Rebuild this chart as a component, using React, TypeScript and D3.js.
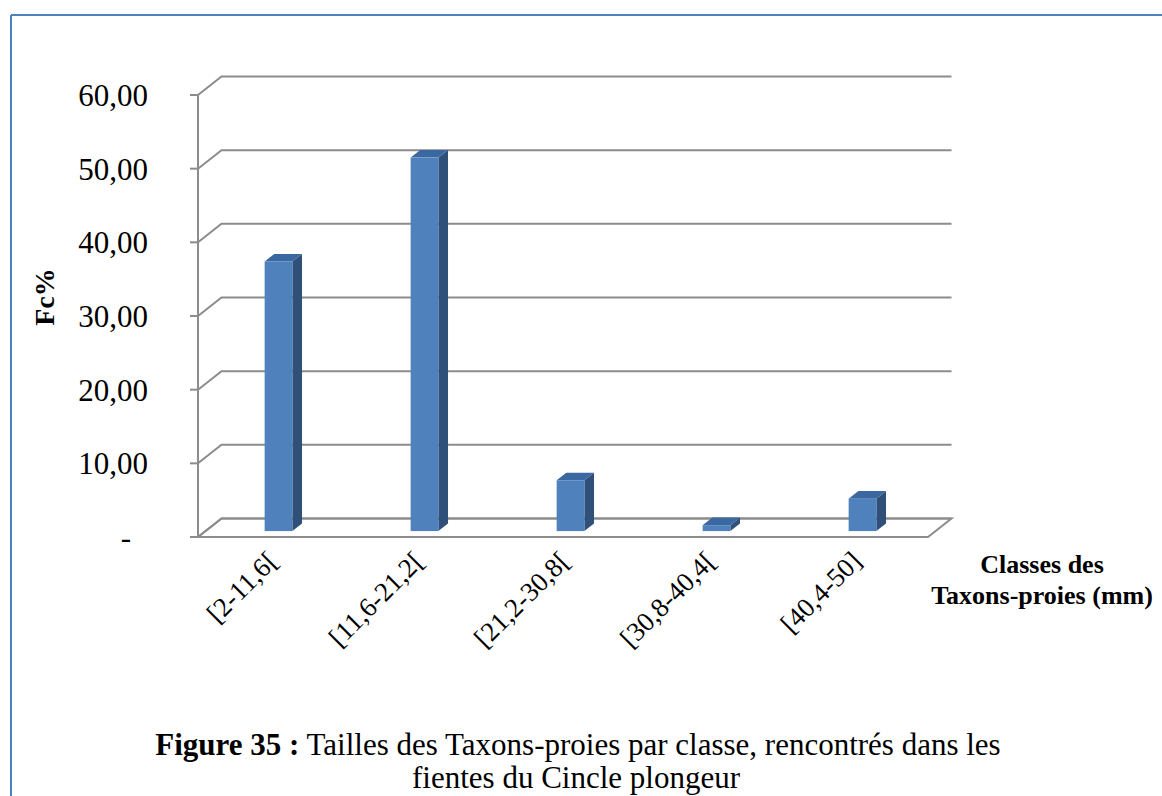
import React from "react";
import * as d3 from "d3";

const categories = ["[2-11,6[", "[11,6-21,2[", "[21,2-30,8[", "[30,8-40,4[", "[40,4-50]"];
const values = [36.6, 50.7, 6.9, 0.8, 4.4];
const yTicks = [0, 10, 20, 30, 40, 50, 60];

const W = 1162;
const H = 796;
const DX = 23.5;
const DY = -18.5;
const F0 = 0.32;
const F1 = 0.73;

export default function App() {
  const x = d3.scaleBand<string>().domain(categories).range([198, 928]).padding(0);
  const y = d3.scaleLinear().domain([0, 60]).range([537, 95]);
  const bw = x.bandwidth() * 0.19;
  const grid = "#8c8c8c";
  const fmt = (v: number) => (v === 0 ? "-" : d3.format(".2f")(v).replace(".", ","));
  const serif = "'Liberation Serif', 'Times New Roman', serif";
  const x0 = x.range()[0];
  const x1 = x.range()[1];
  const y0 = y(0);

  return (
    <svg width={W} height={H} style={{ position: "absolute", left: 0, top: 0 }} fontFamily={serif}>
      <rect x={0} y={0} width={W} height={H} fill="#fff" />
      <line x1={11} y1={15} x2={W} y2={15} stroke="#4f81bd" strokeWidth={2} />
      <line x1={11} y1={15} x2={11} y2={H} stroke="#4f81bd" strokeWidth={2} />

      {/* floor */}
      <path
        d={`M${x0},${y0} L${x1},${y0} L${x1 + DX},${y0 + DY} L${x0 + DX},${y0 + DY} Z`}
        fill="none"
        stroke={grid}
        strokeWidth={2}
      />
      {/* grid lines on back wall + left wall diagonals */}
      {yTicks.map((t) => (
        <g key={t}>
          <polyline
            points={`${x0},${y(t)} ${x0 + DX},${y(t) + DY} ${x1 + DX},${y(t) + DY}`}
            fill="none"
            stroke={grid}
            strokeWidth={2}
          />
          <line x1={x0 - 8} y1={y(t)} x2={x0} y2={y(t)} stroke={grid} strokeWidth={2} />
          <text
            x={t === 0 ? 131 : 148}
            y={y(t)}
            dy="0.35em"
            textAnchor="end"
            fontSize={31}
            fill="#000"
          >
            {fmt(t)}
          </text>
        </g>
      ))}
      <line x1={x0} y1={y(60)} x2={x0} y2={y0} stroke={grid} strokeWidth={2} />

      {/* bars */}
      {categories.map((c, i) => {
        const cx = (x(c) as number) + x.bandwidth() / 2;
        const l = cx - bw / 2 + F0 * DX;
        const r = cx + bw / 2 + F0 * DX;
        const b = y0 + F0 * DY;
        const tp = y(values[i]) + F0 * DY;
        const ddx = (F1 - F0) * DX;
        const ddy = (F1 - F0) * DY;
        return (
          <g key={c}>
            <path d={`M${r},${tp} L${r + ddx},${tp + ddy} L${r + ddx},${b + ddy} L${r},${b} Z`} fill="#2f5179" />
            <path d={`M${l},${tp} L${l + ddx},${tp + ddy} L${r + ddx},${tp + ddy} L${r},${tp} Z`} fill="#3c68a1" />
            <rect x={l} y={tp} width={r - l} height={b - tp} fill="#4f81bd" />
          </g>
        );
      })}

      {/* x labels */}
      {categories.map((c) => {
        const cx = (x(c) as number) + x.bandwidth() / 2 + 8;
        return (
          <text
            key={c}
            transform={`translate(${cx},${y0 + 26}) rotate(-45)`}
            textAnchor="end"
            fontSize={27}
            fill="#000"
          >
            {c}
          </text>
        );
      })}

      <text transform="translate(54,297) rotate(-90)" textAnchor="middle" fontSize={28} fontWeight="bold">
        Fc%
      </text>

      <text x={1042} y={573} textAnchor="middle" fontSize={26} fontWeight="bold">
        Classes des
      </text>
      <text x={1042} y={604} textAnchor="middle" fontSize={26} fontWeight="bold">
        Taxons-proies (mm)
      </text>

      <text x={578} y={755} textAnchor="middle" fontSize={31}>
        <tspan fontWeight="bold">Figure 35 :</tspan> Tailles des Taxons-proies par classe, rencontrés dans les
      </text>
      <text x={576} y={788} textAnchor="middle" fontSize={31}>
        fientes du Cincle plongeur
      </text>
    </svg>
  );
}
